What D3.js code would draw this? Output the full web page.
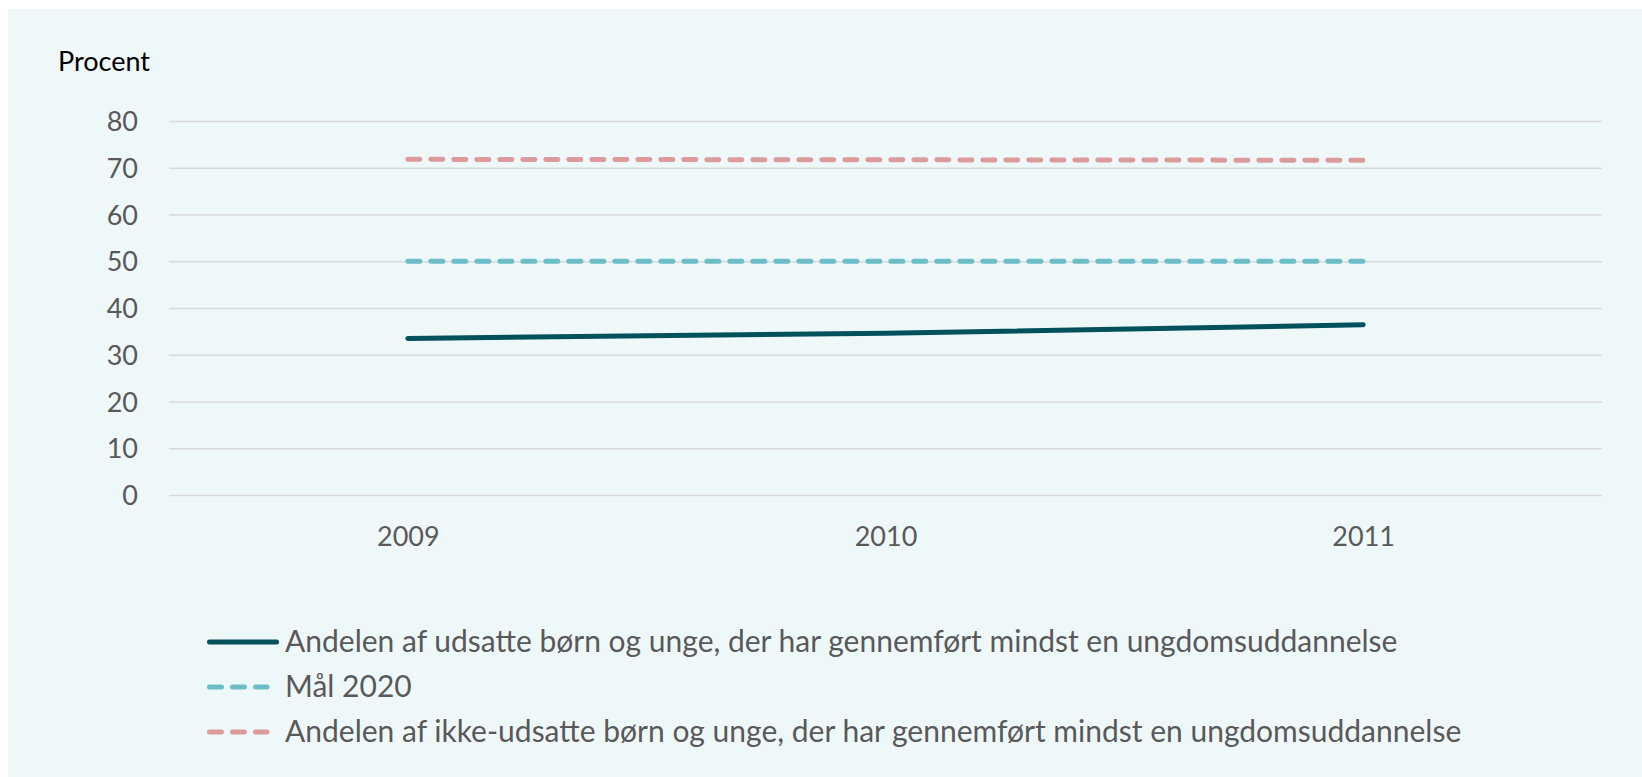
<!doctype html>
<html>
<head>
<script src="https://d3js.org/d3.v7.min.js"></script>
<style>
body { margin: 0; background: #fff; }
svg text { font-family: Lato, "Open Sans", sans-serif; fill: #595959; }
.grid line { stroke: #d9d9d9; stroke-width: 1.6; }
.grid .domain { display: none; }
</style>
</head>
<body>
<svg width="1642" height="777" id="chart"></svg>

<script type="text/javascript">
var years = ["2009", "2010", "2011"];
var udsatte = [33.5, 34.6, 36.4];
var maal2020 = [50, 50, 50];
var ikkeUdsatte = [71.8, 71.7, 71.6];
var yTicks = [0, 10, 20, 30, 40, 50, 60, 70, 80];
var seriesNames = [
  "Andelen af udsatte børn og unge, der har gennemført mindst en ungdomsuddannelse",
  "Mål 2020",
  "Andelen af ikke-udsatte børn og unge, der har gennemført mindst en ungdomsuddannelse"
];

var series = [
  {name: seriesNames[0], values: udsatte, color: "#00515b", dash: null},
  {name: seriesNames[1], values: maal2020, color: "#6bbdc8", dash: "12,11"},
  {name: seriesNames[2], values: ikkeUdsatte, color: "#dd9a9a", dash: "12,11"}
];

var svg = d3.select("#chart");

svg.append("rect")
  .attr("x", 8).attr("y", 9)
  .attr("width", 1642).attr("height", 777)
  .attr("fill", "#eff8f9");

var plotLeft = 169, plotRight = 1602, plotTop = 121, plotBottom = 495;

var x = d3.scalePoint().domain(years).range([plotLeft, plotRight]).padding(0.5);
var y = d3.scaleLinear().domain([0, 80]).range([plotBottom, plotTop]);

var gy = svg.append("g")
  .attr("class", "grid")
  .attr("transform", "translate(" + plotLeft + ",0)")
  .call(d3.axisLeft(y).tickValues(yTicks).tickSize(-(plotRight - plotLeft)).tickPadding(31));
gy.selectAll("text").style("font-size", "27px").attr("dy", "0.36em");

var gx = svg.append("g")
  .attr("transform", "translate(0," + plotBottom + ")")
  .call(d3.axisBottom(x).tickSize(0));
gx.select(".domain").remove();
gx.selectAll("text").style("font-size", "27px").attr("y", 51).attr("dy", 0);

svg.append("text")
  .attr("x", 58).attr("y", 71)
  .style("font-size", "27px")
  .style("fill", "#000")
  .text("Procent");

var line = d3.line()
  .x(function(d, i) { return x(years[i]); })
  .y(function(d) { return y(d); });

// dashed ones first, solid on top
series.slice().reverse().forEach(function(s) {
  svg.append("path")
    .attr("d", line(s.values))
    .attr("fill", "none")
    .attr("stroke", s.color)
    .attr("stroke-width", 5)
    .attr("stroke-linecap", "round")
    .attr("stroke-dasharray", s.dash);
});

var legend = svg.append("g");
var legY = [642, 687, 732];
series.forEach(function(s, i) {
  var g = legend.append("g").attr("transform", "translate(0," + legY[i] + ")");
  g.append("line")
    .attr("x1", 209.5).attr("x2", s.dash ? 267 : 276.5)
    .attr("y1", 0).attr("y2", 0)
    .attr("stroke", s.color)
    .attr("stroke-width", 5)
    .attr("stroke-linecap", "round")
    .attr("stroke-dasharray", s.dash);
  g.append("text")
    .attr("x", 285).attr("y", 10)
    .style("font-size", "30px")
    .text(s.name);
});
</script>

</body>
</html>
